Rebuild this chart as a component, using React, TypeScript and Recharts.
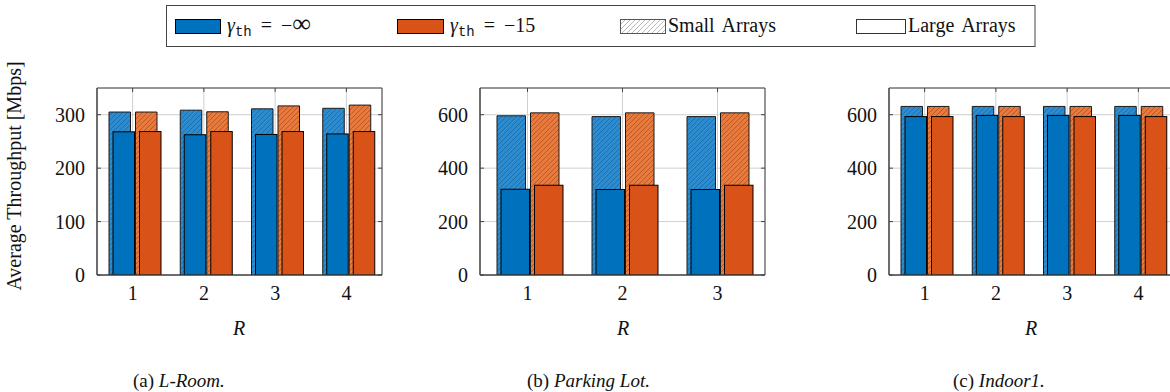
import React from 'react';
import { BarChart, Bar, XAxis, YAxis, CartesianGrid, ReferenceArea } from 'recharts';

// ---------- data ----------
const catsA = ['1', '2', '3', '4'];
const smallInfA = [305, 308.5, 311, 312];
const smallM15A = [305, 305.5, 316.5, 318];
const largeInfA = [268, 262.5, 263, 264];
const largeM15A = [268.5, 268.5, 268.5, 268.5];

const catsB = ['1', '2', '3'];
const smallInfB = [596, 593, 593];
const smallM15B = [607, 607, 607];
const largeInfB = [321, 320, 320];
const largeM15B = [336, 336, 336];

const catsC = ['1', '2', '3', '4'];
const smallInfC = [631, 631, 631, 631];
const smallM15C = [631, 631, 631, 631];
const largeInfC = [593, 597.5, 597.5, 597.5];
const largeM15C = [593, 593, 593, 593];

const yTicksA = [0, 100, 200, 300];
const yTicksBC = [0, 200, 400, 600];

const build = (cats: string[], sI: number[], sM: number[], lI: number[], lM: number[]) =>
  cats.map((r, i) => ({ r, sInf: sI[i], sM15: sM[i], lInf: lI[i], lM15: lM[i] }));

const dataA = build(catsA, smallInfA, smallM15A, largeInfA, largeM15A);
const dataB = build(catsB, smallInfB, smallM15B, largeInfB, largeM15B);
const dataC = build(catsC, smallInfC, smallM15C, largeInfC, largeM15C);

// ---------- layout ----------
const PLOT_TOP = 88;
const PLOT_H = 187;
const PLOT_W = 285;
const YW = 60;
const MT = 5;
const XH = 40;
const FONT = '"Liberation Serif", "Times New Roman", serif';
const BLUE = '#0072BD';
const ORANGE = '#D95319';
const FRAME = '#444444';

const YTick = (p: any) => {
  const { x, y, payload } = p;
  const px = x + 12;
  return (
    <g>
      <text x={x} y={y} dy="0.35em" textAnchor="end" style={{ fontFamily: FONT }} fontSize={20} fill="#111">
        {payload.value}
      </text>
      <line x1={px} x2={px + 4} y1={y} y2={y} stroke={FRAME} strokeWidth={1} />
      <line x1={px + PLOT_W - 4} x2={px + PLOT_W} y1={y} y2={y} stroke={FRAME} strokeWidth={1} />
    </g>
  );
};

const XTick = (p: any) => {
  const { x, y, payload } = p;
  const top = y - 25 - PLOT_H;
  return (
    <g>
      <text x={x} y={y} textAnchor="middle" style={{ fontFamily: FONT }} fontSize={20} fill="#111">
        {payload.value}
      </text>
      <line x1={x} x2={x} y1={top} y2={top + 4} stroke={FRAME} strokeWidth={1} />
    </g>
  );
};

const ShiftRect = (p: any) => (
  <rect x={p.x + 4} y={p.y} width={p.width} height={p.height} fill={p.fill} stroke="#000" strokeWidth={1} />
);

function Panel({ data, yMax, yTicks, plotLeft, barSize }: any) {
  const width = YW + PLOT_W + 2;
  const height = MT + PLOT_H + XH;
  return (
    <div style={{ position: 'absolute', left: plotLeft - YW, top: PLOT_TOP - MT }}>
      <BarChart
        width={width}
        height={height}
        data={data}
        margin={{ top: MT, right: 2, bottom: 0, left: 0 }}
        barGap={5}
        barSize={barSize}
      >
        <CartesianGrid xAxisId="h" stroke="#cfcfcf" strokeWidth={1} />
        <XAxis
          xAxisId="h"
          dataKey="r"
          height={XH}
          tickSize={0}
          tickMargin={25}
          interval={0}
          axisLine={{ stroke: FRAME }}
          tickLine={false}
          tick={(p: any) => <XTick {...p} />}
        />
        <XAxis xAxisId="s" dataKey="r" hide />
        <YAxis
          domain={[0, yMax]}
          ticks={yTicks}
          width={YW}
          tickSize={0}
          tickMargin={12}
          interval={0}
          allowDataOverflow
          axisLine={{ stroke: FRAME }}
          tickLine={false}
          tick={(p: any) => <YTick {...p} />}
        />
        <Bar xAxisId="h" dataKey="sInf" fill="url(#hatchBlue)" stroke="#1a1a1a" strokeWidth={1} isAnimationActive={false} />
        <Bar xAxisId="h" dataKey="sM15" fill="url(#hatchOrange)" stroke="#1a1a1a" strokeWidth={1} isAnimationActive={false} />
        <Bar xAxisId="s" dataKey="lInf" fill={BLUE} shape={ShiftRect} isAnimationActive={false} />
        <Bar xAxisId="s" dataKey="lM15" fill={ORANGE} shape={ShiftRect} isAnimationActive={false} />
        <ReferenceArea xAxisId="h" y1={0} y2={yMax} fill="none" fillOpacity={0} stroke={FRAME} strokeWidth={1} ifOverflow="visible" />
      </BarChart>
    </div>
  );
}

const Gamma = ({ x, y, tail, inf }: any) => (
  <text x={x} y={y} style={{ fontFamily: FONT }} fontSize={20} fill="#111">
    <tspan fontStyle="italic">γ</tspan>
    <tspan style={{ fontFamily: '"Liberation Mono", monospace' }} fontSize={14} dy={4}>th</tspan>
    <tspan dy={-4} dx={9}>=</tspan>
    <tspan dx={9}>−</tspan>
    {inf ? <tspan fontSize={26}>∞</tspan> : <tspan>{tail}</tspan>}
  </text>
);

export default function App() {
  return (
    <div style={{ position: 'fixed', left: 0, top: 0, width: 1170, height: 392, overflow: 'hidden', background: '#fff' }}>
      <svg width={1170} height={392} style={{ position: 'absolute', left: 0, top: 0 }}>
        <defs>
          <pattern id="hatchBlue" patternUnits="userSpaceOnUse" width="5" height="5">
            <rect width="5" height="5" fill="#2B8CD2" />
            <path d="M-1,1 l2,-2 M0,5 l5,-5 M4,6 l2,-2" stroke="#1C5A88" strokeWidth="0.6" />
          </pattern>
          <pattern id="hatchOrange" patternUnits="userSpaceOnUse" width="5" height="5">
            <rect width="5" height="5" fill="#EA7A3C" />
            <path d="M-1,1 l2,-2 M0,5 l5,-5 M4,6 l2,-2" stroke="#8E4420" strokeWidth="0.6" />
          </pattern>
          <pattern id="hatchGray" patternUnits="userSpaceOnUse" width="5" height="5">
            <rect width="5" height="5" fill="#ffffff" />
            <path d="M-1,1 l2,-2 M0,5 l5,-5 M4,6 l2,-2" stroke="#8a8a8a" strokeWidth="0.6" />
          </pattern>
        </defs>
        {/* legend */}
        <rect x={166.5} y={5.5} width={868.5} height={41} fill="#fff" stroke={FRAME} strokeWidth={1} />
        <rect x={175.5} y={19.5} width={45} height={14} fill={BLUE} stroke="#000" strokeWidth={1} />
        <Gamma x={227} y={32} inf />
        <rect x={397.5} y={19.5} width={46} height={14} fill={ORANGE} stroke="#000" strokeWidth={1} />
        <Gamma x={450} y={32} tail="15" />
        <rect x={620.5} y={19.5} width={45} height={14} fill="url(#hatchGray)" stroke="#555" strokeWidth={1} />
        <text x={668} y={32} style={{ fontFamily: FONT }} fontSize={20} fill="#111" wordSpacing={3}>Small Arrays</text>
        <rect x={856.5} y={19.5} width={49} height={14} fill="#fff" stroke="#333" strokeWidth={1} />
        <text x={908} y={32} style={{ fontFamily: FONT }} fontSize={20} fill="#111" wordSpacing={3}>Large Arrays</text>
        {/* y label */}
        <text x={0} y={0} transform="translate(21,176) rotate(-90)" textAnchor="middle" style={{ fontFamily: FONT }} fontSize={20} fill="#111">
          Average Throughput [Mbps]
        </text>
        {/* x labels */}
        <text x={239} y={335} textAnchor="middle" style={{ fontFamily: FONT }} fontStyle="italic" fontSize={20} fill="#111">R</text>
        <text x={623} y={335} textAnchor="middle" style={{ fontFamily: FONT }} fontStyle="italic" fontSize={20} fill="#111">R</text>
        <text x={1031} y={335} textAnchor="middle" style={{ fontFamily: FONT }} fontStyle="italic" fontSize={20} fill="#111">R</text>
        {/* captions */}
        <text x={133} y={387} style={{ fontFamily: FONT }} fontSize={19} fill="#111">
          (a) <tspan fontStyle="italic">L-Room.</tspan>
        </text>
        <text x={527} y={387} style={{ fontFamily: FONT }} fontSize={19} fill="#111">
          (b) <tspan fontStyle="italic">Parking Lot.</tspan>
        </text>
        <text x={953} y={387} style={{ fontFamily: FONT }} fontSize={19} fill="#111">
          (c) <tspan fontStyle="italic">Indoor1.</tspan>
        </text>
      </svg>
      <Panel data={dataA} yMax={350} yTicks={yTicksA} plotLeft={96.7} barSize={21.5} />
      <Panel data={dataB} yMax={700} yTicks={yTicksBC} plotLeft={480.3} barSize={28.5} />
      <Panel data={dataC} yMax={700} yTicks={yTicksBC} plotLeft={888.7} barSize={21.5} />
    </div>
  );
}
